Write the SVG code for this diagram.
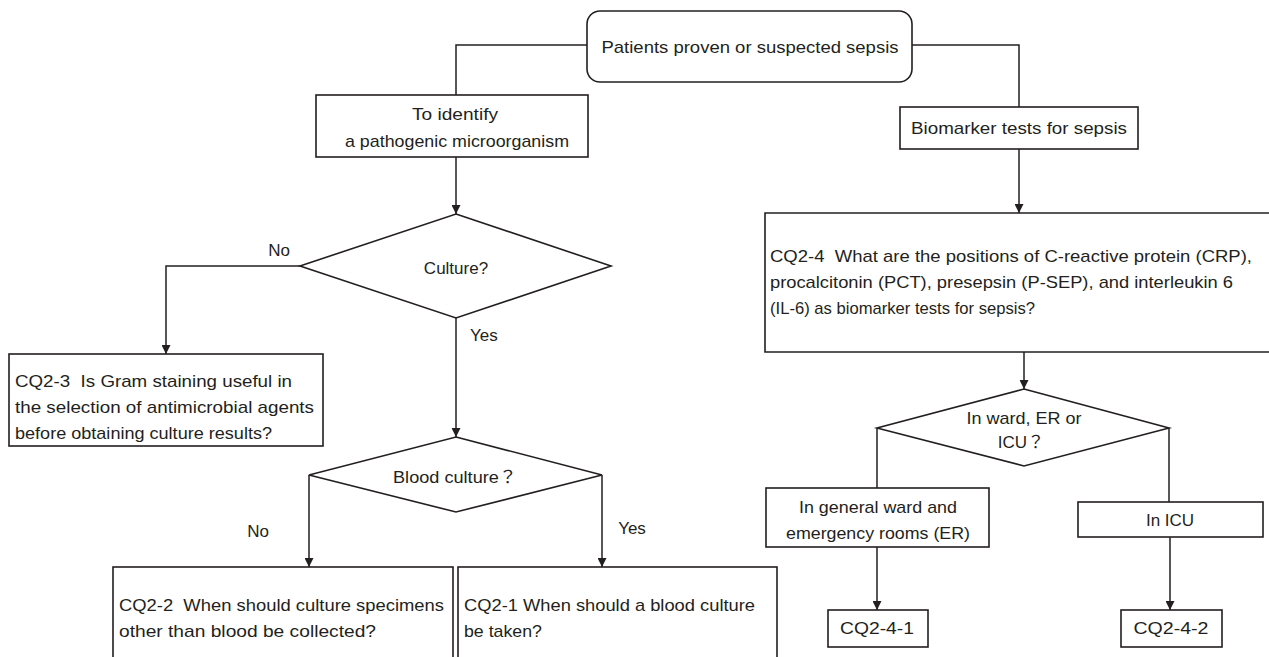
<svg xmlns="http://www.w3.org/2000/svg" width="1269" height="657" viewBox="0 0 1269 657">
<style>
.box{fill:#fff;stroke:#231f20;stroke-width:1.6}
.ln{fill:none;stroke:#231f20;stroke-width:1.5}
.t{font-family:"Liberation Sans","Noto Sans CJK JP",sans-serif;font-size:17px;fill:#231f20}
.c{text-anchor:middle}
</style>
<defs>
<marker id="ah" viewBox="0 0 10 10" refX="10" refY="5" markerWidth="9" markerHeight="9" markerUnits="userSpaceOnUse" orient="auto">
<path d="M0,0 L10,5 L0,10 Z" fill="#231f20"/>
</marker>
</defs>
<rect width="1269" height="657" fill="#fff"/>
<g id="connectors">
<polyline class="ln" points="587,45 456,45 456,95"/>
<polyline class="ln" points="912,45 1019,45 1019,107"/>
<line class="ln" x1="456" y1="157" x2="456" y2="214" marker-end="url(#ah)"/>
<polyline class="ln" points="300,266 166,266 166,354" marker-end="url(#ah)"/>
<line class="ln" x1="456" y1="318" x2="456" y2="437" marker-end="url(#ah)"/>
<line class="ln" x1="309" y1="475" x2="309" y2="567" marker-end="url(#ah)"/>
<line class="ln" x1="602" y1="475" x2="602" y2="567" marker-end="url(#ah)"/>
<line class="ln" x1="1019" y1="149" x2="1019" y2="213" marker-end="url(#ah)"/>
<line class="ln" x1="1024" y1="352" x2="1024" y2="389" marker-end="url(#ah)"/>
<line class="ln" x1="877" y1="428" x2="877" y2="488"/>
<line class="ln" x1="1169" y1="428" x2="1169" y2="502"/>
<line class="ln" x1="877" y1="547" x2="877" y2="610" marker-end="url(#ah)"/>
<line class="ln" x1="1170" y1="537" x2="1170" y2="610" marker-end="url(#ah)"/>
<text class="t c" x="279" y="256">No</text>
<text class="t" x="470" y="341">Yes</text>
<text class="t c" x="258" y="537">No</text>
<text class="t c" x="632" y="534">Yes</text>
</g>
<g id="start">
<rect class="box" x="587" y="11" width="325" height="71" rx="13"/>
<text class="t c" x="750" y="53" textLength="297" lengthAdjust="spacingAndGlyphs">Patients proven or suspected sepsis</text>
</g>
<g id="identify">
<rect class="box" x="316" y="95" width="272" height="62"/>
<text class="t c" x="455" y="120" textLength="86" lengthAdjust="spacingAndGlyphs">To identify</text>
<text class="t c" x="457" y="147" textLength="224" lengthAdjust="spacingAndGlyphs">a pathogenic microorganism</text>
</g>
<g id="biomarker">
<rect class="box" x="900" y="107" width="238" height="42"/>
<text class="t c" x="1019" y="134" textLength="216" lengthAdjust="spacingAndGlyphs">Biomarker tests for sepsis</text>
</g>
<g id="culture">
<polygon class="box" points="456,214 611,266 456,318 300,266"/>
<text class="t c" x="456" y="274">Culture?</text>
</g>
<g id="cq2-3">
<rect class="box" x="9" y="354" width="314" height="92"/>
<text class="t" x="15" y="387" xml:space="preserve" textLength="277" lengthAdjust="spacingAndGlyphs">CQ2-3  Is Gram staining useful in</text>
<text class="t" x="15" y="413" textLength="299" lengthAdjust="spacingAndGlyphs">the selection of antimicrobial agents</text>
<text class="t" x="15" y="439" textLength="257" lengthAdjust="spacingAndGlyphs">before obtaining culture results?</text>
</g>
<g id="blood-culture">
<polygon class="box" points="456,437 602,475 456,512 309,475"/>
<text class="t c" x="455" y="483" textLength="124" lengthAdjust="spacingAndGlyphs">Blood culture？</text>
</g>
<g id="cq2-2">
<rect class="box" x="113" y="567" width="340" height="110"/>
<text class="t" x="119" y="611" xml:space="preserve" textLength="325" lengthAdjust="spacingAndGlyphs">CQ2-2  When should culture specimens</text>
<text class="t" x="119" y="637" textLength="257" lengthAdjust="spacingAndGlyphs">other than blood be collected?</text>
</g>
<g id="cq2-1">
<rect class="box" x="458" y="567" width="319" height="110"/>
<text class="t" x="464" y="611" textLength="291" lengthAdjust="spacingAndGlyphs">CQ2-1 When should a blood culture</text>
<text class="t" x="464" y="637" textLength="78" lengthAdjust="spacingAndGlyphs">be taken?</text>
</g>
<g id="cq2-4">
<path class="box" d="M1272,213 L765,213 L765,352 L1272,352"/>
<text class="t" x="770" y="262" xml:space="preserve" textLength="482" lengthAdjust="spacingAndGlyphs">CQ2-4  What are the positions of C-reactive protein (CRP),</text>
<text class="t" x="770" y="288" textLength="463" lengthAdjust="spacingAndGlyphs">procalcitonin (PCT), presepsin (P-SEP), and interleukin 6</text>
<text class="t" x="770" y="314" textLength="265" lengthAdjust="spacingAndGlyphs">(IL-6) as biomarker tests for sepsis?</text>
</g>
<g id="location">
<polygon class="box" points="1024,389 1169,428 1024,466 877,428"/>
<text class="t c" x="1024" y="424" textLength="115" lengthAdjust="spacingAndGlyphs">In ward, ER or</text>
<text class="t c" x="1021" y="448">ICU？</text>
</g>
<g id="ward-er">
<rect class="box" x="766" y="488" width="223" height="59"/>
<text class="t c" x="878" y="513" textLength="158" lengthAdjust="spacingAndGlyphs">In general ward and</text>
<text class="t c" x="878" y="539" textLength="184" lengthAdjust="spacingAndGlyphs">emergency rooms (ER)</text>
</g>
<g id="icu">
<rect class="box" x="1078" y="502" width="185" height="35"/>
<text class="t c" x="1170" y="526">In ICU</text>
</g>
<g id="cq2-4-1">
<rect class="box" x="828" y="610" width="100" height="37"/>
<text class="t c" x="877" y="634" textLength="74" lengthAdjust="spacingAndGlyphs">CQ2-4-1</text>
</g>
<g id="cq2-4-2">
<rect class="box" x="1121" y="610" width="101" height="37"/>
<text class="t c" x="1171" y="634" textLength="75" lengthAdjust="spacingAndGlyphs">CQ2-4-2</text>
</g>
</svg>
